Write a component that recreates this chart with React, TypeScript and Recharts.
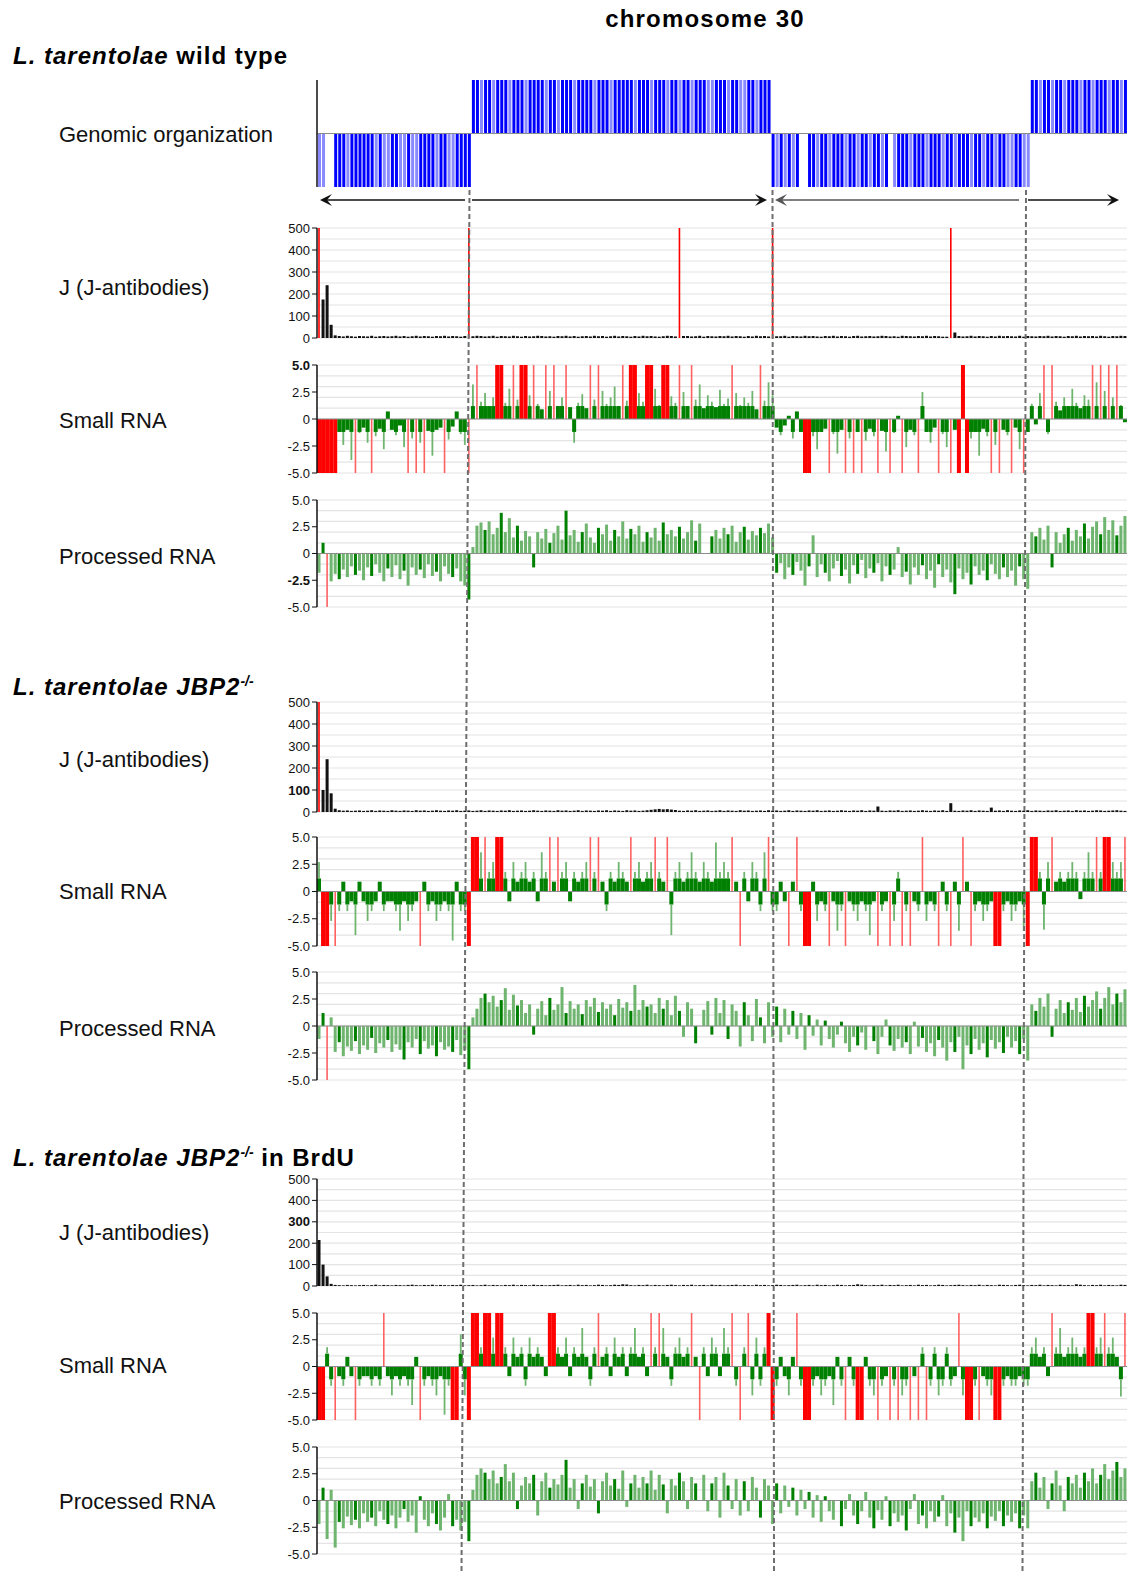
import React from "react";
import { BarChart, Bar, Cell, XAxis, YAxis, CartesianGrid, ReferenceLine } from "recharts";

// 200 bins along chromosome 30, left to right
// genomic organization: sign = strand, 2 = solid gene, 1 = faint gene, 0 = gap
const genomic = [
  -1, -1, 0, 0, -2, -2, -2, -1, -2, -2,
  -2, -2, -2, -2, -1, -2, -1, -1, -2, -2,
  -1, -1, -2, -1, -1, -2, -2, -2, -2, -1,
  -2, -2, -1, -1, -2, -2, -2, -2,
  2, 2, 1, 2, 2, 1, 2, 2, 2, 1,
  2, 2, 2, 1, 2, 2, 2, 2, 1, 2,
  2, 1, 2, 2, 2, 1, 2, 2, 2, 2,
  1, 2, 2, 2, 1, 2, 2, 2, 2, 2,
  1, 2, 2, 2, 1, 2, 2, 2, 1, 2,
  2, 1, 2, 2, 1, 2, 2, 2, 1, 1,
  2, 2, 2, 1, 2, 2, 1, 1, 2, 2,
  1, 2, 2, 2,
  -2, -1, -2, -1, -2, -1, -2, 0, 0, -2,
  -2, -1, -2, -2, -1, -2, -2, -2, -1, -2,
  -2, -1, -2, -2, -1, -2, -2, -1, -2, 0,
  -1, -2, -2, -2, -1, -2, -2, -2, -1, -2,
  -2, -2, -1, -2, -2, -1, -2, -2, -2, -1,
  -2, -2, -1, -2, -2, -1, -2, -2, -1, -1,
  -2, -2, -1, -1,
  2, 2, 1, 2, 2, 1, 2, 2, 1, 2,
  2, 2, 1, 2, 2, 1, 2, 2, 2, 1,
  2, 2, 1, 2,
];

// J (J-antibodies), values above 500 are off scale
const jWt = [
  600, 175, 240, 60, 12, 9, 7, 10, 8, 6,
  9, 8, 7, 10, 6, 8, 9, 7, 8, 10,
  7, 9, 6, 8, 10, 7, 9, 8, 6, 9,
  8, 10, 7, 9, 8, 6, 9, 600, 8, 10,
  9, 7, 8, 10, 6, 9, 8, 7, 10, 8,
  6, 9, 7, 8, 10, 9, 7, 8, 6, 9,
  8, 10, 7, 9, 6, 8, 9, 7, 10, 8,
  9, 6, 8, 10, 7, 9, 8, 6, 9, 7,
  10, 8, 9, 7, 6, 8, 10, 9, 7, 600,
  9, 9, 7, 8, 10, 6, 9, 8, 7, 9,
  8, 10, 7, 9, 8, 6, 9, 7, 10, 8,
  9, 7, 600, 8, 8, 10, 6, 9, 8, 7,
  10, 8, 9, 7, 6, 9, 8, 10, 7, 9,
  8, 6, 9, 10, 7, 8, 9, 7, 8, 10,
  9, 7, 8, 6, 10, 9, 8, 7, 9, 8,
  10, 7, 9, 8, 6, 6, 600, 25, 9, 7,
  8, 10, 7, 9, 8, 6, 9, 7, 10, 8,
  9, 8, 7, 10, 6, 9, 8, 7, 9, 8,
  10, 7, 9, 8, 6, 9, 8, 10, 7, 9,
  8, 9, 7, 10, 8, 6, 9, 8, 10, 9,
];
const jJbp2 = [
  600, 100, 240, 85, 15, 8, 6, 7, 5, 6,
  7, 5, 6, 8, 5, 7, 6, 5, 8, 6,
  5, 7, 6, 5, 8, 6, 7, 5, 6, 8,
  6, 5, 7, 6, 8, 5, 6, 7, 5, 6,
  8, 5, 7, 6, 5, 7, 6, 8, 5, 6,
  7, 5, 6, 8, 6, 5, 7, 6, 5, 8,
  6, 7, 5, 6, 8, 5, 7, 6, 5, 7,
  6, 8, 5, 7, 6, 5, 8, 6, 7, 5,
  6, 8, 10, 12, 14, 12, 13, 11, 9, 6,
  5, 7, 6, 8, 5, 6, 7, 5, 6, 8,
  5, 7, 6, 5, 8, 6, 7, 5, 6, 7,
  5, 8, 6, 7, 5, 6, 8, 5, 7, 6,
  5, 7, 6, 8, 5, 6, 7, 5, 6, 8,
  6, 5, 7, 6, 8, 5, 7, 6, 25, 6,
  5, 7, 6, 8, 5, 6, 7, 5, 6, 8,
  6, 5, 7, 6, 8, 5, 40, 6, 5, 7,
  6, 8, 5, 7, 6, 5, 20, 6, 7, 5,
  8, 6, 5, 7, 6, 8, 5, 7, 6, 5,
  7, 6, 8, 5, 6, 7, 5, 8, 6, 7,
  5, 6, 8, 7, 5, 6, 7, 8, 6, 5,
];
const jBrdu = [
  215, 100, 45, 10, 5, 4, 3, 5, 4, 3,
  4, 5, 3, 4, 6, 3, 5, 4, 3, 5,
  4, 3, 5, 6, 4, 3, 5, 4, 6, 3,
  5, 4, 3, 5, 4, 6, 3, 4, 5, 3,
  4, 6, 3, 5, 4, 3, 5, 4, 6, 3,
  5, 4, 3, 6, 4, 5, 3, 4, 5, 6,
  3, 4, 5, 3, 6, 4, 5, 3, 4, 6,
  5, 3, 4, 6, 5, 8, 7, 4, 3, 5,
  4, 6, 3, 5, 4, 3, 5, 6, 4, 3,
  5, 4, 6, 3, 4, 5, 3, 6, 4, 5,
  3, 4, 5, 6, 3, 5, 4, 3, 6, 4,
  5, 3, 4, 6, 5, 3, 4, 5, 6, 3,
  4, 5, 3, 6, 4, 5, 3, 4, 6, 5,
  3, 4, 5, 8, 6, 4, 3, 5, 4, 6,
  3, 5, 4, 6, 3, 4, 5, 3, 6, 4,
  5, 3, 4, 6, 5, 3, 4, 5, 6, 4,
  3, 5, 4, 6, 3, 5, 4, 3, 6, 5,
  4, 3, 5, 6, 4, 3, 5, 4, 6, 3,
  5, 4, 3, 6, 4, 5, 3, 8, 6, 4,
  3, 5, 4, 6, 3, 5, 4, 3, 6, 5,
];

// Small RNA (log scale, +/-9 = off scale, drawn red)
const smallWt = [
  -9, -9, -9, -9, -9, -1.2, -2.4, -1.0, -3.8, -9,
  -1.3, -0.8, -2.2, -9, -1.6, -0.9, -2.8, 0.7, -1.0, -1.5,
  -0.6, -2.6, -9, -1.8, -9, -2.2, -9, -1.1, -3.4, -1.0,
  -0.8, -9, -1.9, -0.7, 0.7, -1.4, -2.4, -9,
  3.2, 9, 1.6, 2.4, 1.2, 2.0, 9, 9, 1.5, 2.8,
  9, 1.8, 9, 9, 2.2, 9, 1.4, 0.9, 9, 2.6,
  9, 1.2, 2.0, 9, 1.1, -2.2, 1.5, 2.3, 1.0, 9,
  1.8, 9, 2.6, 1.4, 2.0, 3.0, 1.2, 9, 1.7, 9,
  9, 2.4, 1.6, 9, 9, 2.8, 1.3, 9, 9, 2.1,
  1.5, 9, 2.5, 1.2, 9, 1.8, 3.2, 1.0, 2.2, 1.6,
  1.1, 2.7, 1.4, 1.9, 9, 2.4, 1.3, 2.0, 1.5, 2.6,
  0.9, 9, 1.7, 3.4, 2.2,
  -0.8, -1.5, -0.6, 0.3, -1.8, 0.7, -1.2, -9, -9, -1.6,
  -2.8, -1.2, -0.9, -9, -1.4, -3.2, -1.0, -9, -1.8, -9,
  -1.2, -9, -2.0, -0.9, -1.6, -9, -1.1, -3.0, -9, -1.3,
  0.3, -9, -2.6, -1.0, -1.5, -9, 2.5, -1.2, -2.2, -0.8,
  -9, -1.4, -2.6, -9, -1.0, -9, 9, -9, -1.8, -1.2,
  -3.4, -0.9, -1.6, -9, -2.4, -9, -1.0, -1.5, -9, -0.8,
  -2.8, -9, -1.2,
  1.4, -0.5, 2.4, 9, -1.4, 9, 1.6, 0.8, 2.0, 1.2,
  2.8, 1.5, 1.0, 2.2, 1.8, 9, 3.4, 9, 2.6, 9,
  2.0, 9, 1.3, -0.3,
];
const smallJbp2 = [
  2.7, -9, -9, -2.7, -9, -1.8, 0.9, -1.8, -0.9, -4.0,
  0.9, -0.9, -2.7, -1.8, -0.9, 0.9, -1.8, -0.9, -0.9, -1.8,
  -3.6, -0.9, -2.7, -1.8, -0.9, -9, 0.9, -1.8, -0.9, -2.7,
  -1.8, -0.9, -1.8, -4.5, 0.9, -1.8, -1.8, -9,
  9, 9, 3.6, 9, 1.8, 2.7, 9, 9, 1.8, -0.9,
  2.7, 0.9, 1.8, 2.7, 0.9, 1.8, -0.9, 3.6, 1.8, 9,
  0.9, 9, 1.8, 2.7, -0.9, 1.8, 0.9, 1.8, 2.7, 9,
  1.8, 9, 0.9, -1.8, 1.8, 0.9, 2.7, 1.8, 0.9, 9,
  1.8, 2.7, 0.9, 1.8, 2.7, 9, 1.8, 0.9, 9, -4.0,
  1.8, 2.7, 0.9, 1.8, 3.6, 1.8, 0.9, 2.7, 1.8, 0.9,
  4.5, 1.8, 2.7, 1.8, 9, 0.9, -9, 1.8, -0.9, 2.7,
  1.8, -1.8, 3.6, 9, -1.8,
  -1.8, 0.9, -0.9, -9, 0.9, 9, -1.8, -9, -9, 0.9,
  -2.7, -0.9, -1.8, -9, -0.9, -3.6, -1.8, -9, -0.9, -1.8,
  -2.7, -0.9, -1.8, -4.0, -0.9, -9, -1.8, -0.9, -9, -2.7,
  1.8, -9, -1.8, -9, -0.9, -1.8, 9, -2.7, -0.9, -1.8,
  -9, 0.9, -1.8, -9, 0.9, -3.6, 9, 0.9, -9, -1.8,
  -0.9, -2.7, -1.8, -0.9, -9, -9, -1.8, -0.9, -2.7, -1.8,
  -0.9, -3.6, -9,
  9, 9, 1.8, -3.5, 2.7, 9, 0.9, 1.8, 0.9, 1.8,
  2.7, 1.8, -0.7, 1.8, 3.6, 1.8, 9, 1.8, 9, 9,
  2.7, 1.8, 2.7, 9,
];
const smallBrdu = [
  -9, -9, 1.8, -1.8, -9, -0.9, -1.8, 0.9, -0.9, -9,
  -1.8, -0.9, -0.9, -1.8, -0.9, -1.8, 9, -0.9, -2.7, -0.9,
  -1.8, -0.9, -1.8, -3.6, 0.9, -9, -1.8, -0.9, -1.8, -2.7,
  -0.9, -4.5, -1.8, -9, -9, 3.0, -2.7, -9,
  9, 9, 1.8, 9, 9, 2.7, 9, 9, 1.8, -0.9,
  2.7, 0.9, 1.8, -1.8, 2.7, 0.9, 1.8, 0.9, -0.9, 9,
  9, 1.8, 0.9, 2.7, -0.9, 1.8, 0.9, 3.6, 0.9, -1.8,
  1.8, 9, 0.9, 1.8, -0.9, 2.7, 0.9, 1.8, -0.9, 1.8,
  3.6, 0.9, 1.8, -0.9, 9, 1.8, 9, 3.6, 0.9, -1.8,
  1.8, 2.7, 0.9, 1.8, 9, 0.9, -9, 1.8, -0.9, 2.7,
  1.8, -0.9, 3.6, 1.8, 9, -1.8, -9, 1.8, 9, -2.7,
  2.7, -1.8, 1.8, 9, -9,
  -1.8, 0.9, -0.9, -2.7, 0.9, 9, -1.8, -9, -9, -1.8,
  -0.9, -2.7, -1.8, -0.9, -3.6, 0.9, -1.8, -9, 0.9, -1.8,
  -9, -9, 0.9, -1.8, -2.7, -9, -1.8, -0.9, -9, -1.8,
  -9, -2.7, -1.8, -9, -0.9, -9, 1.8, -9, -1.8, 1.8,
  -2.7, -1.8, 1.8, -1.8, -0.9, 9, -2.7, -9, -9, -1.8,
  -9, -0.9, -1.8, -2.7, -9, -9, -1.8, -0.9, -1.8, -1.8,
  -0.9, -1.8, -1.8,
  1.8, 2.7, 0.9, 1.8, -0.9, 9, 1.8, 3.6, 0.9, 1.8,
  2.7, 1.8, 0.9, 1.8, 9, 9, 1.8, 2.7, 9, 1.8,
  2.7, 0.9, -2.8, 9,
];

// Processed RNA
const procWt = [
  -1.8, 1.0, -9, -2.6, -1.9, -2.4, -1.5, -2.2, -1.2, -2.0,
  -1.6, -2.5, -1.3, -2.1, -1.0, -1.8, -2.6, -1.4, -2.2, -1.1,
  -2.4, -1.6, -3.0, -1.3, -2.0, -1.5, -2.3, -1.0, -2.1, -1.7,
  -2.6, -1.2, -1.9, -2.2, -1.4, -2.6, -3.0, -4.3,
  0.6, 2.6, 2.9, 2.2, 3.0, 1.8, 2.4, 3.8, 2.0, 3.3,
  1.5, 2.6, 1.2, 2.1, 1.6, -1.3, 2.0, 1.4, 2.3, 1.0,
  1.9, 2.6, 1.3, 4.0, 1.7, 2.2, 1.1, 2.0, 2.8, 1.5,
  1.0, 2.4, 1.8, 2.7, 1.2, 2.2, 1.6, 3.0, 1.4, 2.3,
  1.8, 2.6, 1.1, 2.0, 1.5, 2.4, 1.2, 2.9, 1.8, 2.2,
  1.6, 2.5, 1.4, 2.0, 3.1, 1.2, 2.8, 0, 0, 1.6,
  2.2, 1.4, 2.4, 1.8, 2.6, 1.1, 2.0, 2.5, 1.3, 2.1,
  1.7, 2.4, 1.9, 2.8, 1.5,
  -1.8, -0.9, -2.4, -1.3, -2.0, -0.8, -1.6, -3.0, -1.2, 1.7,
  -2.2, -1.0, -1.8, -2.6, -1.4, -0.7, -2.1, -1.5, -2.8, -1.1,
  -1.9, -0.6, -2.3, -1.4, -1.8, -0.9, -2.6, -1.2, -2.0, -1.5,
  0.6, -2.2, -1.7, -2.9, -1.3, -2.0, -1.1, -2.4, -1.6, -3.2,
  -1.0, -2.2, -1.5, -2.7, -3.8, -1.4, -2.4, -1.8, -2.9, -1.2,
  -2.0, -1.6, -2.5, -1.0, -1.9, -2.4, -1.3, -2.2, -1.6, -3.0,
  -1.2, -2.4, -3.3,
  2.0, 1.6, 2.4, 1.3, 2.6, -1.3, 2.0, 1.0, 1.8, 2.4,
  1.2, 2.2, 1.6, 2.8, 1.4, 2.5, 3.0, 1.8, 3.4, 2.2,
  3.1, 1.7, 2.6, 3.5,
];
const procJbp2 = [
  -1.2, 1.2, -9, 0.8, -2.4, -1.5, -2.8, -1.9, -2.3, -1.4,
  -2.6, -1.8, -2.2, -1.1, -2.5, -1.6, -2.0, -1.3, -2.4, -1.7,
  -2.2, -3.1, -1.5, -2.0, -1.2, -2.6, -1.4, -2.1, -1.8, -2.8,
  -1.5, -2.2, -1.9, -2.4, -1.3, -2.7, -2.2, -4.0,
  0.8, 1.6, 2.6, 3.0, 2.2, 2.8, 1.8, 2.4, 3.5, 1.5,
  2.9, 1.9, 2.4, 1.2, 2.0, -0.8, 1.6, 2.3, 1.0, 2.6,
  1.5, 2.0, 3.6, 1.2, 2.3, 1.6, 2.0, 1.1, 2.4, 1.8,
  2.6, 1.3, 2.2, 1.6, 2.0, 1.0, 2.5, 1.7, 2.2, 1.4,
  3.8, 1.5, 2.4, 1.8, 2.0, 1.2, 2.6, 1.6, 2.4, 1.0,
  2.8, 1.4, -1.0, 2.2, 1.6, -1.6, 0, 1.5, 2.3, -0.8,
  2.6, 1.2, 2.4, -1.2, 2.0, 1.4, -1.9, 2.2, 1.0, -1.4,
  2.5, 0.8, -1.6, 2.2, -1.0,
  1.8, -1.5, 1.6, -0.8, 1.4, -1.2, 1.2, -2.2, 1.0, -0.9,
  0.6, -1.8, 0.5, -1.2, -2.0, -0.8, 0.4, -1.6, -2.4, -1.0,
  -1.8, -0.6, -2.2, 0, -1.4, -2.6, -1.0, 0.6, -1.8, -2.3,
  -1.2, -2.0, -1.5, -2.6, 0.4, -1.9, -1.1, -2.4, -1.6, -2.8,
  -1.3, -2.0, -3.2, -1.5, -2.4, -1.0, -4.0, -1.8, -2.6, -1.2,
  -2.2, -1.6, -2.9, -1.3, -2.1, -1.5, -2.5, -1.0, -2.0, -1.4,
  -2.6, -1.2, -3.2,
  2.0, 1.4, 2.6, 1.8, 3.0, -1.0, 1.6, 2.4, 1.2, 2.2,
  1.5, 2.6, 1.3, 2.8, 1.8, 2.4, 3.2, 1.6, 2.6, 3.6,
  2.0, 3.0, 2.2, 3.4,
];
const procBrdu = [
  -2.2, 1.2, -3.6, 1.0, -4.4, -2.0, -2.6, -1.5, -2.3, -1.8,
  -2.6, -1.2, -2.0, -1.6, -2.4, -1.0, -1.8, -2.2, -1.4, -2.6,
  -1.6, -0.8, -2.0, -1.4, -3.0, 0.4, -1.8, -2.4, -1.2, -2.2,
  -2.8, -1.6, 0.6, -2.4, -1.8, -2.8, -2.0, -3.8,
  1.0, 2.4, 3.0, 2.6, 2.0, 2.8, 1.6, 2.2, 3.4, 1.8,
  2.6, -0.8, 1.4, 2.2, 1.6, 2.4, -1.4, 1.8, 2.6, 1.2,
  2.0, 1.5, 2.4, 3.8, 1.2, 2.0, -0.8, 1.6, 2.4, 1.3,
  2.0, -1.2, 1.8, 2.6, 1.4, 2.0, 1.1, 2.8, -0.6, 1.6,
  2.4, 1.2, 2.2, 1.6, 2.8, 1.0, 2.4, 1.5, -1.2, 2.0,
  1.4, 2.6, 1.8, -0.8, 2.2, 1.6, 0, 2.4, -1.0, 1.6,
  2.2, -1.6, 2.6, 1.4, -0.8, 2.0, -1.4, 1.8, -1.0, 2.2,
  1.2, -1.6, 2.0, 1.4, -2.2,
  1.6, -1.2, 1.4, -0.6, 1.2, -1.4, 1.0, -0.8, 0.8, -1.6,
  0.5, -2.0, 0.4, -1.0, -1.8, 0, -2.4, -0.8, 0.6, -1.4,
  -2.2, -1.0, 0.8, -1.6, -2.6, -0.9, -1.8, 0.4, -2.4, -1.2,
  -2.0, -1.4, -2.8, -0.8, 0.6, -2.2, -1.4, -2.6, -1.0, -2.0,
  -1.5, 0.5, -2.4, -1.2, -3.0, -1.6, -3.8, -1.0, -2.4, -1.6,
  -2.0, -1.2, -2.6, -1.5, -1.9, -1.0, -2.4, -1.4, -2.0, -1.2,
  -2.6, -1.4, -2.6,
  1.8, 2.6, 1.2, 2.2, -0.8, 1.6, 2.8, 1.4, -1.0, 2.2,
  1.6, 2.4, 1.2, 2.6, 1.8, 3.0, 1.6, 2.4, 3.4, 2.0,
  2.8, 3.6, 2.2, 3.0,
];

const signalTicks = [-5, -2.5, 0, 2.5, 5];
const signalGrid = [-5, -4, -3, -2, -1, 0, 1, 2, 3, 4, 5];
const jTicks = [0, 100, 200, 300, 400, 500];
const jGrid = [0, 50, 100, 150, 200, 250, 300, 350, 400, 450, 500];
const genomicGrid = [-1, -0.8, -0.6, -0.4, -0.2, 0, 0.2, 0.4, 0.6, 0.8, 1];

const FONT = '"Liberation Sans", Arial, Helvetica, sans-serif';
const PLOT_LEFT = 317;
const PLOT_W = 810;
const AXIS_W = 46;
const PAD = 9;
const DARK_GREEN = "#008000";
const LIGHT_GREEN = "#6fb56f";
const RED = "#ff0000";
const LIGHT_RED = "#ff6161";
const GRID = "#e4e4e4";

const fmtSignal = (v: number) => (v === 0 ? "0" : v.toFixed(1));

function makeTick(fmt: (v: number) => string, bold?: number) {
  return (props: any) => {
    const { x, y, payload } = props;
    return (
      <text
        x={x}
        y={y}
        dy={4.5}
        textAnchor="end"
        fontSize={13}
        fontFamily={FONT}
        fill="#111"
        fontWeight={payload.value === bold ? 700 : 400}
      >
        {fmt(payload.value)}
      </text>
    );
  };
}

// bar drawn narrower than its bin, centred, for thin spike look
function spike(p: any, w: number, fill: string) {
  const { x, y, width, height } = p;
  if (!height) return <g />;
  const top = height < 0 ? y + height : y;
  const bw = Math.min(w, width);
  return <rect x={x + (width - bw) / 2} y={top} width={bw} height={Math.abs(height)} fill={fill} />;
}

function chartBox(top: number): React.CSSProperties {
  return { position: "absolute", left: PLOT_LEFT - AXIS_W, top: top - PAD };
}

const chartMargin = { top: PAD, right: 0, bottom: PAD, left: 0 };

function GenomicTrack({ top, height }: { top: number; height: number }) {
  const rows = genomic.map((g, i) => ({ bin: i, v: Math.sign(g), level: Math.abs(g) }));
  return (
    <div style={chartBox(top)}>
      <BarChart width={PLOT_W + AXIS_W} height={height + 2 * PAD} data={rows} margin={chartMargin} barSize={3}>
        <CartesianGrid vertical={false} horizontalValues={genomicGrid} stroke={GRID} strokeWidth={1.2} />
        <XAxis dataKey="bin" hide />
        <YAxis domain={[-1, 1]} width={AXIS_W} tick={false} tickLine={false} axisLine={{ stroke: "#111", strokeWidth: 1.5 }} />
        <Bar dataKey="v" isAnimationActive={false}>
          {rows.map((r) => (
            <Cell key={r.bin} fill={r.level === 2 ? "#0000ff" : "#8a8aff"} />
          ))}
        </Bar>
        <ReferenceLine y={0} stroke="#8c8c8c" strokeWidth={1.2} />
      </BarChart>
    </div>
  );
}

function JTrack({ values, top, height, bold }: { values: number[]; top: number; height: number; bold?: number }) {
  const rows = values.map((v, i) => ({ bin: i, v: Math.min(v, 500), over: v > 500 }));
  return (
    <div style={chartBox(top)}>
      <BarChart width={PLOT_W + AXIS_W} height={height + 2 * PAD} data={rows} margin={chartMargin} barCategoryGap={0}>
        <CartesianGrid vertical={false} horizontalValues={jGrid} stroke={GRID} strokeWidth={1.2} />
        <XAxis dataKey="bin" hide />
        <YAxis
          domain={[0, 500]}
          ticks={jTicks}
          interval={0}
          width={AXIS_W}
          tickSize={5}
          tick={makeTick((v) => String(v), bold)}
          tickLine={{ stroke: "#111" }}
          axisLine={{ stroke: "#111", strokeWidth: 1.5 }}
        />
        <Bar
          dataKey="v"
          isAnimationActive={false}
          shape={(p: any) => (p.payload.over ? spike(p, 1.6, RED) : spike(p, 3, "#111"))}
        />
      </BarChart>
    </div>
  );
}

function SignalTrack({
  values,
  top,
  height,
  kind,
  bold,
}: {
  values: number[];
  top: number;
  height: number;
  kind: "small" | "proc";
  bold?: number;
}) {
  const rows = values.map((v, i) => {
    const over = Math.abs(v) > 5;
    const shown = Math.max(-5, Math.min(5, v));
    const lim = kind === "small" ? 1.2 : i % 4 === 1 ? 5 : 0;
    const base = over ? 0 : Math.sign(shown) * Math.min(Math.abs(shown), lim);
    const block = over && (Math.abs(values[i - 1] ?? 0) > 5 || Math.abs(values[i + 1] ?? 0) > 5);
    return { bin: i, base, rest: shown - base, over, block };
  });
  const baseW = kind === "small" ? 5 : 3;
  const restW = kind === "small" ? 1.8 : 3;
  return (
    <div style={chartBox(top)}>
      <BarChart width={PLOT_W + AXIS_W} height={height + 2 * PAD} data={rows} margin={chartMargin} barCategoryGap={0}>
        <CartesianGrid vertical={false} horizontalValues={signalGrid} stroke={GRID} strokeWidth={1.2} />
        <XAxis dataKey="bin" hide />
        <YAxis
          domain={[-5, 5]}
          ticks={signalTicks}
          interval={0}
          width={AXIS_W}
          tickSize={5}
          tick={makeTick(fmtSignal, bold)}
          tickLine={{ stroke: "#111" }}
          axisLine={{ stroke: "#111", strokeWidth: 1.5 }}
        />
        <Bar dataKey="base" stackId="s" isAnimationActive={false} shape={(p: any) => spike(p, baseW, DARK_GREEN)} />
        <Bar
          dataKey="rest"
          stackId="s"
          isAnimationActive={false}
          shape={(p: any) =>
            p.payload.over
              ? p.payload.block
                ? spike(p, 5, RED)
                : spike(p, 1.6, LIGHT_RED)
              : spike(p, restW, LIGHT_GREEN)
          }
        />
        <ReferenceLine y={0} stroke="#8c8c8c" strokeWidth={1.2} />
      </BarChart>
    </div>
  );
}

function Label({ y, children }: { y: number; children: React.ReactNode }) {
  return (
    <div
      style={{
        position: "absolute",
        left: 59,
        top: y - 13,
        height: 26,
        lineHeight: "26px",
        fontSize: 22,
        fontFamily: FONT,
        color: "#111",
        whiteSpace: "nowrap",
      }}
    >
      {children}
    </div>
  );
}

function Header({ y, children }: { y: number; children: React.ReactNode }) {
  return (
    <div
      style={{
        position: "absolute",
        left: 13,
        top: y - 15,
        height: 30,
        lineHeight: "30px",
        fontSize: 24,
        fontWeight: 700,
        letterSpacing: 1,
        fontFamily: FONT,
        color: "#000",
        whiteSpace: "nowrap",
      }}
    >
      {children}
    </div>
  );
}

const sup: React.CSSProperties = { fontSize: 14, verticalAlign: "9px", letterSpacing: 0, fontStyle: "italic" };

const sections = [
  {
    header: (
      <>
        <i>L. tarentolae</i> wild type
      </>
    ),
    headerY: 56,
    j: jWt,
    small: smallWt,
    proc: procWt,
    jPos: [228, 110],
    smallPos: [365, 108],
    procPos: [500, 107],
    labels: [288, 421, 557],
    bold: [undefined, 5, -2.5],
  },
  {
    header: (
      <>
        <i>L. tarentolae JBP2</i>
        <span style={sup}>-/-</span>
      </>
    ),
    headerY: 681,
    j: jJbp2,
    small: smallJbp2,
    proc: procJbp2,
    jPos: [702, 110],
    smallPos: [837, 109],
    procPos: [972, 108],
    labels: [760, 892, 1029],
    bold: [100, undefined, undefined],
  },
  {
    header: (
      <>
        <i>L. tarentolae JBP2</i>
        <span style={sup}>-/-</span> in BrdU
      </>
    ),
    headerY: 1152,
    j: jBrdu,
    small: smallBrdu,
    proc: procBrdu,
    jPos: [1179, 107],
    smallPos: [1313, 107],
    procPos: [1447, 107],
    labels: [1233, 1366, 1502],
    bold: [300, undefined, undefined],
  },
];

// dashed boundaries between strand-switch regions (top and bottom x)
const boundaries = [
  [469.5, 461.5],
  [772.5, 774],
  [1026, 1022.5],
];

function Arrow({ x1, x2, head, color }: { x1: number; x2: number; head: "left" | "right"; color: string }) {
  const y = 200;
  const tip = head === "left" ? x1 : x2;
  const d = head === "left" ? 1 : -1;
  return (
    <g>
      <line x1={x1 + (head === "left" ? 6 : 0)} x2={x2 - (head === "right" ? 6 : 0)} y1={y} y2={y} stroke={color} strokeWidth={1.6} />
      <polygon
        points={`${tip},${y} ${tip + d * 12},${y - 6} ${tip + d * 7},${y} ${tip + d * 12},${y + 6}`}
        fill={color}
      />
    </g>
  );
}

export default function App() {
  return (
    <div
      style={{
        position: "absolute",
        left: 0,
        top: 0,
        width: 1127,
        height: 1572,
        background: "#fff",
        overflow: "hidden",
        fontFamily: FONT,
      }}
    >
      <div
        style={{
          position: "absolute",
          left: 0,
          width: 1410,
          top: 4,
          height: 30,
          lineHeight: "30px",
          textAlign: "center",
          fontSize: 24,
          fontWeight: 700,
          letterSpacing: 1.2,
          color: "#000",
        }}
      >
        chromosome 30
      </div>

      <GenomicTrack top={80} height={107} />
      <Label y={135}>Genomic organization</Label>

      {sections.map((s, k) => (
        <React.Fragment key={k}>
          <Header y={s.headerY}>{s.header}</Header>
          <JTrack values={s.j} top={s.jPos[0]} height={s.jPos[1]} bold={s.bold[0]} />
          <SignalTrack values={s.small} top={s.smallPos[0]} height={s.smallPos[1]} kind="small" bold={s.bold[1]} />
          <SignalTrack values={s.proc} top={s.procPos[0]} height={s.procPos[1]} kind="proc" bold={s.bold[2]} />
          <Label y={s.labels[0]}>J (J-antibodies)</Label>
          <Label y={s.labels[1]}>Small RNA</Label>
          <Label y={s.labels[2]}>Processed RNA</Label>
        </React.Fragment>
      ))}

      <svg width={1127} height={1572} style={{ position: "absolute", left: 0, top: 0, pointerEvents: "none" }}>
        <Arrow x1={320} x2={465} head="left" color="#111" />
        <Arrow x1={472} x2={767} head="right" color="#111" />
        <Arrow x1={775} x2={1019} head="left" color="#555" />
        <Arrow x1={1028} x2={1119} head="right" color="#111" />
        {boundaries.map(([xt, xb], i) => (
          <line key={i} x1={xt} y1={190} x2={xb} y2={1572} stroke="#6e6e6e" strokeWidth={2} strokeDasharray="5 3" />
        ))}
      </svg>
    </div>
  );
}
